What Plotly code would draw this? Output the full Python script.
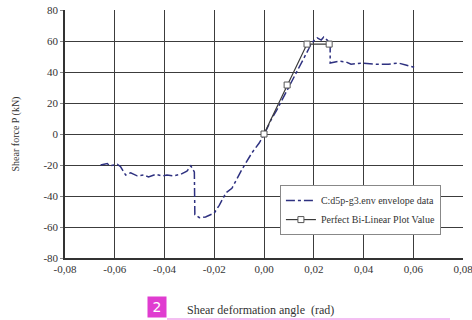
import plotly.graph_objects as go

env_x = [-0.0657, -0.063, -0.062, -0.059, -0.0577, -0.0556, -0.0536, -0.051, -0.0484, -0.0464,
         -0.0435, -0.041, -0.039, -0.0363, -0.0335, -0.031, -0.0294, -0.028, -0.0278, -0.026,
         -0.0235, -0.0214, -0.020, -0.018, -0.0153, -0.0129, -0.0089, -0.0048, -0.002, 0.0,
         0.0028, 0.005, 0.010, 0.015, 0.018, 0.019, 0.0214, 0.023, 0.024, 0.0254, 0.0266,
         0.0266, 0.030, 0.033, 0.035, 0.0395, 0.045, 0.050, 0.054, 0.057, 0.0605]
env_y = [-20, -19, -20.6, -19.5, -21, -26.5, -25, -27, -26.5, -27.7,
         -26, -27, -26.5, -27, -26, -24, -20.6, -24.5, -52, -54,
         -53.5, -52, -51, -46, -38, -35, -23, -12, -6, -0.6,
         9, 15, 30, 46, 55, 58.7, 62, 60.6, 62.6, 60.6, 58,
         45.8, 47, 46.5, 45, 45.8, 45, 45, 45.8, 44.5, 43]

bl_x = [0.0, 0.0093, 0.0173, 0.0262]
bl_y = [0.0, 31.6, 58.0, 58.0]

x_ticks = [-0.08, -0.06, -0.04, -0.02, 0.0, 0.02, 0.04, 0.06, 0.08]
x_labels = ["-0,08", "-0,06", "-0,04", "-0,02", "0,00", "0,02", "0,04", "0,06", "0,08"]
y_ticks = [-80, -60, -40, -20, 0, 20, 40, 60, 80]
y_labels = ["-80", "-60", "-40", "-20", "0", "20", "40", "60", "80"]

font = "Liberation Serif"

fig = go.Figure()
fig.add_trace(go.Scatter(x=env_x, y=env_y, mode="lines", name="C:d5p-g3.env envelope data",
                         line=dict(color="#2e3180", width=1.5, dash="dashdot")))
fig.add_trace(go.Scatter(x=bl_x, y=bl_y, mode="lines+markers", name="Perfect Bi-Linear Plot Value",
                         line=dict(color="#3a3a3a", width=1.2),
                         marker=dict(symbol="square", size=6, color="white",
                                     line=dict(color="#555555", width=1))))

fig.update_layout(
    width=472, height=320,
    margin=dict(l=65, r=9, t=10, b=62),
    paper_bgcolor="white", plot_bgcolor="white",
    font=dict(family=font, size=10, color="#333333"),
    showlegend=True,
    legend=dict(x=0.54, y=0.294, xanchor="left", yanchor="top",
                bgcolor="white", bordercolor="#888888", borderwidth=1,
                font=dict(family=font, size=10, color="#333333"),
                tracegroupgap=0, itemwidth=30),
    xaxis=dict(range=[-0.08, 0.08], tickvals=x_ticks, ticktext=x_labels,
               showgrid=True, gridcolor="#3c3c3c", gridwidth=1.2, zeroline=False,
               showline=True, linecolor="#333333", linewidth=1.5, mirror=False,
               ticks="", tickfont=dict(size=11), ticklabeloverflow="allow",
               automargin=False),
    yaxis=dict(range=[-80, 80], tickvals=y_ticks, ticktext=y_labels,
               showgrid=True, gridcolor="#3c3c3c", gridwidth=1.2, zeroline=False,
               showline=True, linecolor="#333333", linewidth=1.5,
               ticks="outside", ticklen=3, tickcolor="#888888", tickfont=dict(size=11),
               automargin=False,
               title=dict(text="Shear force P (kN)", font=dict(size=10), standoff=22)),
)

fig.add_annotation(text="Shear deformation angle  (rad)", xref="paper", yref="paper",
                   x=0.492, y=-0.21, xanchor="center", yanchor="middle", showarrow=False,
                   font=dict(family=font, size=12, color="#333333"))
fig.add_annotation(text="2", xref="paper", yref="paper", x=(157 - 65) / 398, y=(258 - 307) / 248,
                   xanchor="center", yanchor="middle", showarrow=False,
                   font=dict(family="DejaVu Sans", size=14, color="white"),
                   bgcolor="#e03cd0", width=16, height=18, borderpad=1)
fig.add_shape(type="line", xref="paper", yref="paper",
              x0=(167 - 65) / 398, x1=(450 - 65) / 398, y0=(258 - 319) / 248, y1=(258 - 319) / 248,
              line=dict(color="#f0a8ec", width=1.5))

fig.write_html("out.html", post_script="document.body.style.margin='0';",
               config={"displayModeBar": False})
